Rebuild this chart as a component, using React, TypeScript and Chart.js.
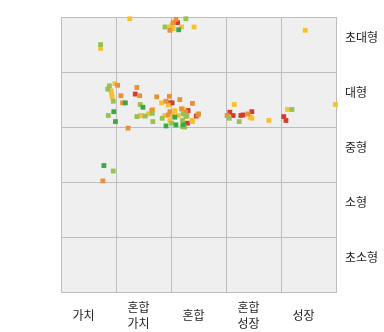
import React, { useEffect, useRef } from "react";
import { Chart, registerables } from "chart.js";

Chart.register(...registerables);

// Style box axes: investment style (columns) and market-cap size (rows, top to bottom)
const styleLabels: (string | string[])[] = ["가치", ["혼합", "가치"], "혼합", ["혼합", "성장"], "성장"];
const sizeLabels: string[] = ["초대형", "대형", "중형", "소형", "초소형"];

// Holdings positioned in the style box: [style score, size score], 0..5 each
const greenPts: [number, number][] = [
  [1.17, 3.44], [1.49, 3.36], [0.96, 3.28], [0.99, 3.1], [2.07, 3.18], [2.22, 3.04],
  [1.91, 3.02], [2.09, 3.04], [2.14, 4.77], [0.78, 2.3],
];
const lightGreenPts: [number, number][] = [
  [0.88, 3.75], [0.85, 3.69], [0.95, 3.47], [1.44, 3.41], [0.86, 3.21], [1.38, 3.19],
  [1.53, 3.2], [1.66, 3.25], [1.67, 3.1], [1.84, 3.16], [2.22, 3.24], [2.29, 3.21],
  [2.21, 3.12], [2.25, 3.0], [2.01, 3.07], [2.27, 3.19], [2.21, 3.01], [3.06, 3.16],
  [3.24, 3.1], [4.2, 3.32], [0.72, 4.5], [1.89, 4.82], [2.27, 4.97], [0.95, 2.2],
];
const yellowPts: [number, number][] = [
  [0.98, 3.79], [0.91, 3.66], [0.92, 3.6], [0.93, 3.55], [1.83, 3.44], [1.95, 3.4],
  [1.45, 3.21], [1.59, 3.24], [1.67, 3.32], [2.07, 3.3], [1.89, 3.21], [2.04, 3.21],
  [2.13, 3.21], [2.39, 3.1], [1.98, 3.12], [2.22, 3.33], [2.24, 3.24], [2.38, 3.12],
  [3.15, 3.41], [3.44, 3.18], [3.47, 3.16], [3.78, 3.12], [4.12, 3.32], [4.99, 3.41],
  [0.72, 4.43], [1.25, 4.97], [1.98, 4.82], [2.04, 4.79], [2.19, 4.82], [2.42, 4.82],
  [4.44, 4.76], [2.02, 4.86],
];
const orangePts: [number, number][] = [
  [1.03, 3.76], [1.09, 3.57], [1.12, 3.44], [1.38, 3.72], [1.43, 3.57], [1.22, 2.98],
  [1.65, 3.3], [1.74, 3.55], [1.97, 3.56], [1.91, 3.47], [2.16, 3.5], [2.39, 3.43],
  [2.19, 3.33], [1.98, 3.28], [1.95, 3.22], [2.27, 3.27], [2.49, 3.22], [2.5, 3.24],
  [3.02, 3.21], [3.4, 3.24], [2.09, 4.96], [2.04, 4.9], [1.98, 4.76], [0.76, 2.02],
];
const redPts: [number, number][] = [
  [1.35, 3.6], [1.98, 3.44], [2.02, 3.44], [2.31, 3.3], [2.46, 3.2], [2.3, 3.07],
  [3.07, 3.27], [3.13, 3.21], [3.27, 3.21], [3.31, 3.22], [3.47, 3.28], [4.05, 3.19],
  [4.09, 3.12], [2.12, 4.9],
];

const toXY = (pts: [number, number][]) => pts.map(([x, y]) => ({ x, y }));

const plotBackground = {
  id: "plotBackground",
  beforeDraw(chart: Chart) {
    const { ctx, chartArea } = chart;
    ctx.save();
    ctx.fillStyle = "#efefef";
    ctx.fillRect(chartArea.left, chartArea.top, chartArea.right - chartArea.left, chartArea.bottom - chartArea.top);
    ctx.restore();
  },
};

export default function App() {
  const canvasRef = useRef<HTMLCanvasElement | null>(null);

  useEffect(() => {
    if (!canvasRef.current) return;
    const mk = (data: [number, number][], color: string) => ({
      data: toXY(data),
      backgroundColor: color,
      borderWidth: 0,
      pointStyle: "rect" as const,
      pointRadius: 3.4,
      pointHoverRadius: 3.4,
      clip: false as const,
      xAxisID: "x",
      yAxisID: "y",
    });
    const font = { family: "'Noto Sans CJK KR', 'Noto Sans', sans-serif", size: 12, lineHeight: 1.35 };
    const chart = new Chart(canvasRef.current, {
      type: "scatter",
      data: {
        datasets: [
          mk(greenPts, "#3aa845"),
          mk(lightGreenPts, "#98c152"),
          mk(orangePts, "#e8913a"),
          mk(yellowPts, "#f4c231"),
          mk(redPts, "#d63c2c"),
        ],
      },
      options: {
        animation: false,
        responsive: true,
        maintainAspectRatio: false,
        layout: { padding: { left: 61, top: 16, right: 0, bottom: 0 } },
        plugins: { legend: { display: false }, tooltip: { enabled: false } },
        scales: {
          x: { type: "linear", min: 0, max: 5, display: false },
          y: { type: "linear", min: 0, max: 5, display: false },
          cx: {
            type: "category",
            position: "bottom",
            labels: styleLabels as any,
            offset: true,
            grid: { offset: true, color: "#bdbdbd", drawTicks: false },
            border: { color: "#bdbdbd" },
            ticks: {
              color: "#222",
              font,
              padding: 15,
              labelOffset: -5,
              crossAlign: "center",
              maxRotation: 0,
              autoSkip: false,
            },
            afterFit(scale: any) {
              scale.height = 40;
            },
          },
          cy: {
            type: "category",
            position: "right",
            labels: sizeLabels,
            offset: true,
            grid: { offset: true, color: "#bdbdbd", drawTicks: false },
            border: { color: "#bdbdbd" },
            ticks: { color: "#222", font, padding: 9, labelOffset: -7, autoSkip: false },
            afterFit(scale: any) {
              scale.width = 48;
            },
          },
        },
      },
      plugins: [plotBackground],
    });
    return () => chart.destroy();
  }, []);

  return (
    <div style={{ position: "fixed", left: 0, top: 0, width: 384, height: 332, background: "#fff" }}>
      <canvas ref={canvasRef} />
    </div>
  );
}
